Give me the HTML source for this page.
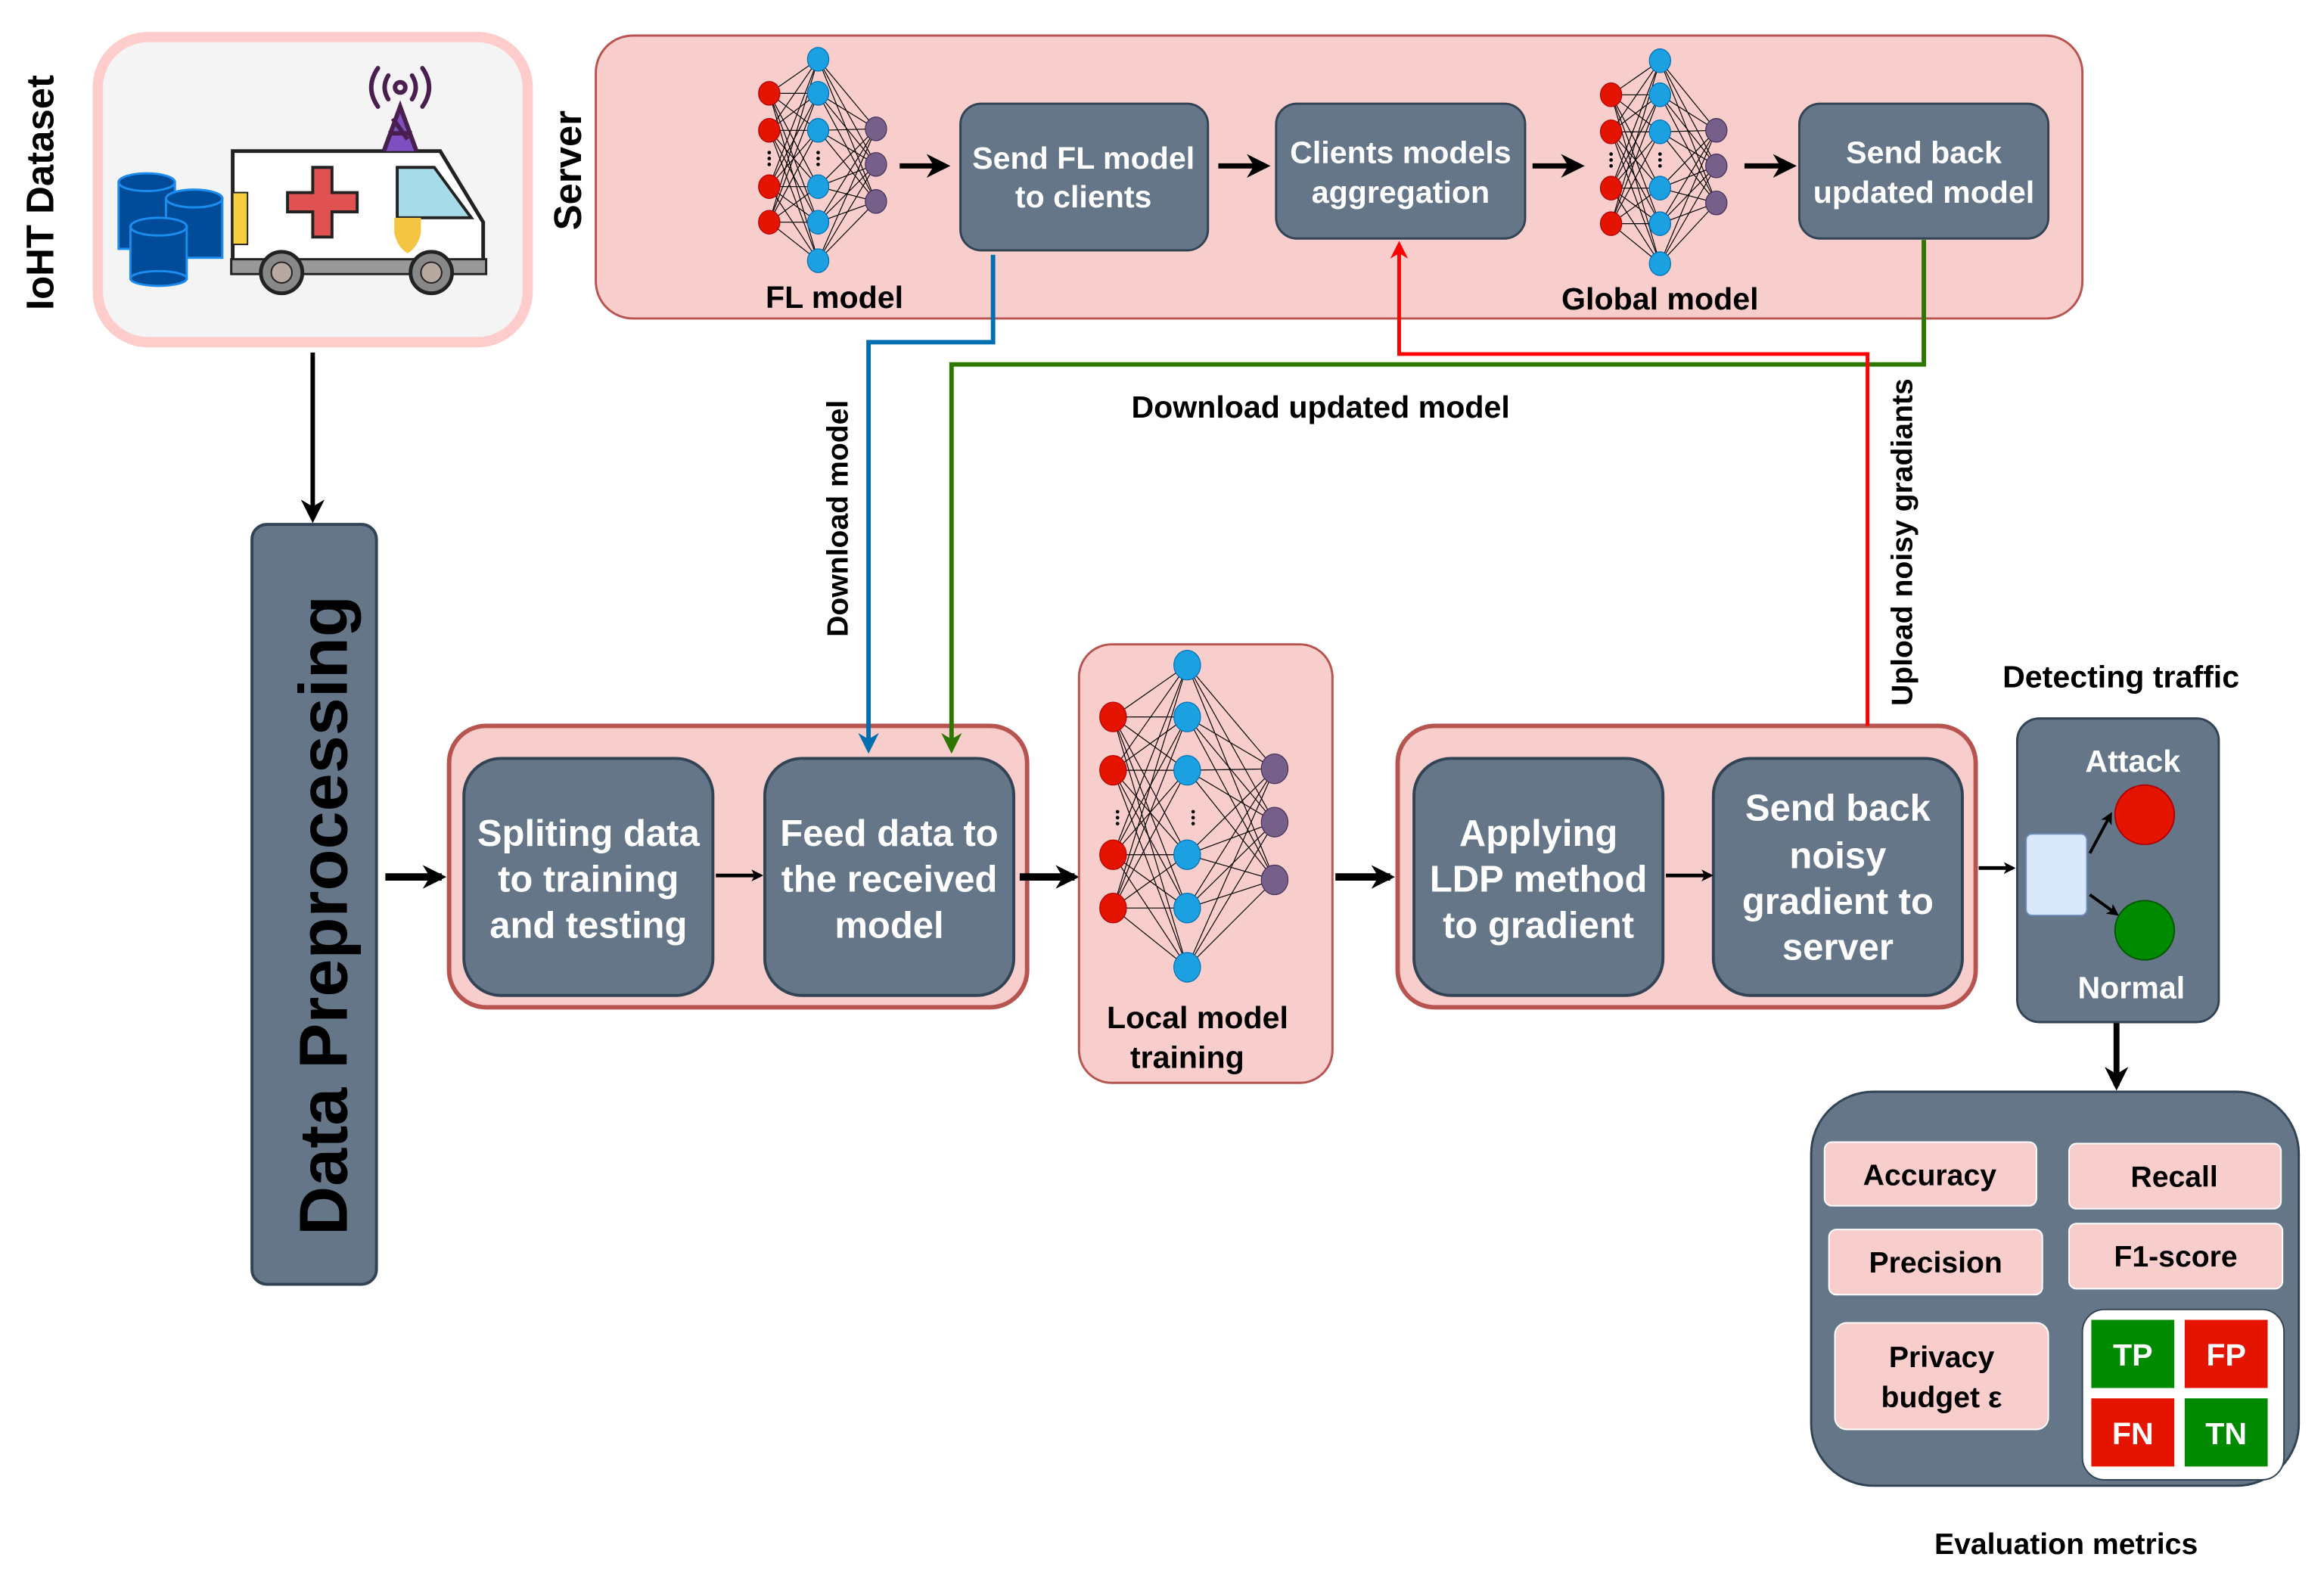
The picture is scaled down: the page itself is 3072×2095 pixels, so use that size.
<!DOCTYPE html>
<html><head><meta charset="utf-8"><style>
html,body{margin:0;padding:0;background:#fff}
svg{display:block}
text{font-family:"Liberation Sans",Arial,sans-serif;font-weight:bold}
</style></head><body>
<svg id="s" width="3072" height="2095" viewBox="0 0 1568 1070" preserveAspectRatio="none" xmlns="http://www.w3.org/2000/svg">
<defs>
<marker id="ak" markerWidth="8" markerHeight="8" refX="6" refY="4" orient="auto" markerUnits="userSpaceOnUse"><path d="M0,0 L8,4 L0,8 L2,4z" fill="#000"/></marker>
<marker id="ab" viewBox="0 0 10 10" markerWidth="16" markerHeight="16" refX="8" refY="5" orient="auto" markerUnits="userSpaceOnUse"><path d="M0,0 L10,5 L0,10 L3,5z" fill="#000"/></marker>
<marker id="abl" viewBox="0 0 10 10" markerWidth="14" markerHeight="14" refX="8" refY="5" orient="auto" markerUnits="userSpaceOnUse"><path d="M0,0 L10,5 L0,10 L3,5z" fill="#006eaf"/></marker>
<marker id="agr" viewBox="0 0 10 10" markerWidth="14" markerHeight="14" refX="8" refY="5" orient="auto" markerUnits="userSpaceOnUse"><path d="M0,0 L10,5 L0,10 L3,5z" fill="#2d7600"/></marker>
<marker id="ard" viewBox="0 0 10 10" markerWidth="12" markerHeight="12" refX="8" refY="5" orient="auto" markerUnits="userSpaceOnUse"><path d="M0,0 L10,5 L0,10 L3,5z" fill="#f00"/></marker>
</defs>

<!-- IoHT dataset -->
<text x="0" y="0" font-size="26" text-anchor="middle" transform="translate(36,130) rotate(-90)">IoHT Dataset</text>
<rect x="66" y="25" width="290" height="206" rx="34" fill="#f4f4f4" stroke="#ffcccc" stroke-width="7"/>
<g fill="#004c99" stroke="#1b8cf0" stroke-width="1.5">
<rect x="80" y="123" width="38" height="45"/><ellipse cx="99" cy="123" rx="19" ry="6"/>
<rect x="112" y="134" width="38" height="40"/><ellipse cx="131" cy="134" rx="19" ry="6"/>
<rect x="88" y="153" width="38" height="35"/><ellipse cx="107" cy="153" rx="19" ry="6"/><ellipse cx="107" cy="188" rx="19" ry="5"/>
</g>
<path d="M157,102 L297,102 L326,150 L326,182 L157,182 Z" fill="#fff" stroke="#222" stroke-width="2.5"/>
<path d="M268,113 L293,113 L318,147 L268,147 Z" fill="#a6dbea" stroke="#222" stroke-width="2"/>
<rect x="156" y="175" width="172" height="10" fill="#999" stroke="#222" stroke-width="1.5"/>
<rect x="157" y="130" width="10" height="35" fill="#f4d03f" stroke="#222" stroke-width="1"/>
<path d="M211,113h13v17h17v13h-17v17h-13v-17h-17v-13h17z" fill="#e05252" stroke="#222" stroke-width="2"/>
<path d="M266,147h18v10q-2,10-9,14q-7,-4-9,-14z" fill="#f4c542"/>
<circle cx="190" cy="184" r="14" fill="#888" stroke="#222" stroke-width="2.5"/><circle cx="190" cy="184" r="7" fill="#b8a9a0" stroke="#222"/>
<circle cx="291" cy="184" r="14" fill="#888" stroke="#222" stroke-width="2.5"/><circle cx="291" cy="184" r="7" fill="#b8a9a0" stroke="#222"/>
<path d="M259,102 L270,72 L281,102 M262,90 L278,90 M265,80 L275,94" fill="#7d4fc1" stroke="#4a1f4f" stroke-width="3"/>
<circle cx="270" cy="59" r="3.5" fill="none" stroke="#4a1f4f" stroke-width="3"/>
<path d="M262,51 q-5,8 0,16 M278,51 q5,8 0,16 M255,46 q-9,13 0,26 M285,46 q9,13 0,26" fill="none" stroke="#4a1f4f" stroke-width="3" stroke-linecap="round"/>

<line x1="211" y1="238" x2="211" y2="350" stroke="#000" stroke-width="3" marker-end="url(#ab)"/>

<rect x="170" y="354" width="84" height="513" rx="10" fill="#647687" stroke="#314354" stroke-width="2"/>
<text x="0" y="0" font-size="46" text-anchor="middle" transform="translate(234,618) rotate(-90)">Data Preprocessing</text>

<!-- Server -->
<rect x="402" y="24" width="1003" height="191" rx="25" fill="#f8cecc" stroke="#b85450" stroke-width="1.5"/>
<text x="0" y="0" font-size="26" text-anchor="middle" transform="translate(392,115) rotate(-90)">Server</text>
<g id="nets"></g>

<g stroke="#000" stroke-width="3.5">
<line x1="607" y1="112" x2="638" y2="112" marker-end="url(#ab)"/>
<line x1="822" y1="112" x2="854" y2="112" marker-end="url(#ab)"/>
<line x1="1034" y1="112" x2="1066" y2="112" marker-end="url(#ab)"/>
<line x1="1177" y1="112" x2="1209" y2="112" marker-end="url(#ab)"/>
</g>
<g fill="#647687" stroke="#314354" stroke-width="1.5">
<rect x="648" y="70" width="167" height="99" rx="14"/>
<rect x="861" y="70" width="168" height="91" rx="14"/>
<rect x="1214" y="70" width="168" height="91" rx="14"/>
</g>
<g fill="#fff" font-size="21" text-anchor="middle">
<text x="731" y="114">Send FL model</text><text x="731" y="140">to clients</text>
<text x="945" y="110">Clients models</text><text x="945" y="137">aggregation</text>
<text x="1298" y="110">Send back</text><text x="1298" y="137">updated model</text>
</g>
<g font-size="21" text-anchor="middle">
<text x="563" y="208">FL model</text>
<text x="1120" y="209">Global model</text>
<text x="891" y="282">Download updated model</text>
</g>
<text x="0" y="0" font-size="20" text-anchor="middle" transform="translate(572,350) rotate(-90)">Download model</text>
<text x="0" y="0" font-size="20" text-anchor="middle" transform="translate(1290,366) rotate(-90)">Upload noisy gradiants</text>

<!-- groups -->
<rect x="303" y="490" width="390" height="190" rx="25" fill="#f8cecc" stroke="#b85450" stroke-width="3"/>
<rect x="943" y="490" width="390" height="190" rx="25" fill="#f8cecc" stroke="#b85450" stroke-width="3"/>
<g fill="#647687" stroke="#314354" stroke-width="2">
<rect x="313" y="512" width="168" height="160" rx="25"/>
<rect x="516" y="512" width="168" height="160" rx="25"/>
<rect x="954" y="512" width="168" height="160" rx="25"/>
<rect x="1156" y="512" width="168" height="160" rx="25"/>
</g>
<g fill="#fff" font-size="25" text-anchor="middle">
<text x="397" y="571">Spliting data</text><text x="397" y="602">to training</text><text x="397" y="633">and testing</text>
<text x="600" y="571">Feed data to</text><text x="600" y="602">the received</text><text x="600" y="633">model</text>
<text x="1038" y="571">Applying</text><text x="1038" y="602">LDP method</text><text x="1038" y="633">to gradient</text>
<text x="1240" y="554">Send back</text><text x="1240" y="586">noisy</text><text x="1240" y="617">gradient to</text><text x="1240" y="648">server</text>
</g>

<!-- connectors -->
<polyline points="670,172 670,231 586,231 586,506" fill="none" stroke="#006eaf" stroke-width="3" marker-end="url(#abl)"/>
<polyline points="1298,162 1298,246 642,246 642,506" fill="none" stroke="#2d7600" stroke-width="3" marker-end="url(#agr)"/>
<polyline points="1260,490 1260,239 944,239 944,165" fill="none" stroke="#f00" stroke-width="2.5" marker-end="url(#ard)"/>

<g stroke="#000">
<line x1="483" y1="591" x2="513" y2="591" stroke-width="2.5" marker-end="url(#ak)"/>
<line x1="1124" y1="591" x2="1154" y2="591" stroke-width="2.5" marker-end="url(#ak)"/>
<line x1="260" y1="592" x2="298" y2="592" stroke-width="5" marker-end="url(#ab)"/>
<line x1="688" y1="592" x2="725" y2="592" stroke-width="5" marker-end="url(#ab)"/>
<line x1="901" y1="592" x2="938" y2="592" stroke-width="5" marker-end="url(#ab)"/>
<line x1="1335" y1="586" x2="1358" y2="586" stroke-width="2.5" marker-end="url(#ak)"/>
<line x1="1428" y1="690" x2="1428" y2="733" stroke-width="4" marker-end="url(#ab)"/>
</g>

<!-- local model -->
<rect x="728" y="435" width="171" height="296" rx="22" fill="#f8cecc" stroke="#b85450" stroke-width="1.5"/>
<g id="nets2"></g>
<g font-size="21" text-anchor="middle"><text x="808" y="694">Local model</text><text x="801" y="721">training</text></g>

<!-- detect -->
<text x="1431" y="464" font-size="21" text-anchor="middle">Detecting traffic</text>
<rect x="1361" y="485" width="136" height="205" rx="15" fill="#647687" stroke="#314354" stroke-width="1.5"/>
<text x="1439" y="521" font-size="21" fill="#fff" text-anchor="middle">Attack</text>
<text x="1438" y="674" font-size="21" fill="#fff" text-anchor="middle">Normal</text>
<circle cx="1447" cy="550" r="20" fill="#e51400" stroke="#b20000"/>
<circle cx="1447" cy="628" r="20" fill="#008a00" stroke="#005700"/>
<rect x="1367" y="563" width="41" height="55" rx="4" fill="#dae8fc" stroke="#6c8ebf"/>
<g stroke="#000" stroke-width="2"><line x1="1410" y1="576" x2="1424" y2="550" marker-end="url(#ak)"/><line x1="1410" y1="604" x2="1428" y2="617" marker-end="url(#ak)"/></g>

<!-- eval -->
<rect x="1222" y="737" width="329" height="266" rx="42" fill="#647687" stroke="#314354" stroke-width="1.5"/>
<g fill="#f8cecc" stroke="#ffffff" stroke-width="1">
<rect x="1231" y="771" width="143" height="43" rx="5"/>
<rect x="1396" y="772" width="143" height="44" rx="5"/>
<rect x="1234" y="830" width="144" height="44" rx="5"/>
<rect x="1396" y="826" width="144" height="44" rx="5"/>
<rect x="1238" y="893" width="144" height="72" rx="8"/>
</g>
<g font-size="20" text-anchor="middle">
<text x="1302" y="800">Accuracy</text><text x="1467" y="801">Recall</text>
<text x="1306" y="859">Precision</text><text x="1468" y="855">F1-score</text>
<text x="1310" y="923">Privacy</text><text x="1310" y="950">budget ε</text>
</g>
<rect x="1405" y="884" width="136" height="115" rx="15" fill="#fff" stroke="#314354"/>
<rect x="1411" y="891" width="56" height="46" fill="#008a00"/><rect x="1474" y="891" width="56" height="46" fill="#e51400"/>
<rect x="1411" y="944" width="56" height="46" fill="#e51400"/><rect x="1474" y="944" width="56" height="46" fill="#008a00"/>
<g font-size="21" fill="#fff" text-anchor="middle"><text x="1439" y="922">TP</text><text x="1502" y="922">FP</text><text x="1439" y="975">FN</text><text x="1502" y="975">TN</text></g>
<text x="1394" y="1049" font-size="20" text-anchor="middle">Evaluation metrics</text>
</svg>
<script>
(function(){
var NS="http://www.w3.org/2000/svg";
function net(gid,L,r,dots){
 var g=document.getElementById(gid);
 function el(t,a){var e=document.createElementNS(NS,t);for(var k in a)e.setAttribute(k,a[k]);g.appendChild(e);return e;}
 for(var i=0;i<L.length-1;i++)L[i].ys.forEach(function(a){L[i+1].ys.forEach(function(b){el("line",{x1:L[i].x,y1:a,x2:L[i+1].x,y2:b,stroke:"#000","stroke-width":0.6});});});
 var cols=["#e51400","#1ba1e2","#76608a"],st=["#b20000","#006eaf","#432d57"];
 L.forEach(function(l,i){l.ys.forEach(function(y){el("ellipse",{cx:l.x,cy:y,rx:r*0.9,ry:r,fill:cols[i],stroke:st[i],"stroke-width":0.6});});});
 dots.forEach(function(d){for(var k=-1;k<=1;k++)el("circle",{cx:d[0],cy:d[1]+k*4,r:1.2,fill:"#000"});});
}
net("nets",[{x:519,ys:[63,88,126,150]},{x:552,ys:[40,63,88,126,150,176]},{x:591,ys:[87,111,136]}],8,[[519,107],[552,107]]);
net("nets",[{x:1087,ys:[64,89,127,151]},{x:1120,ys:[41,64,89,127,151,178]},{x:1158,ys:[88,112,137]}],8,[[1087,108],[1120,108]]);
net("nets2",[{x:751,ys:[484,520,577,613]},{x:801,ys:[449,484,520,577,613,653]},{x:860,ys:[519,555,594]}],10,[[754,552],[805,552]]);
})();
</script>
</body></html>
